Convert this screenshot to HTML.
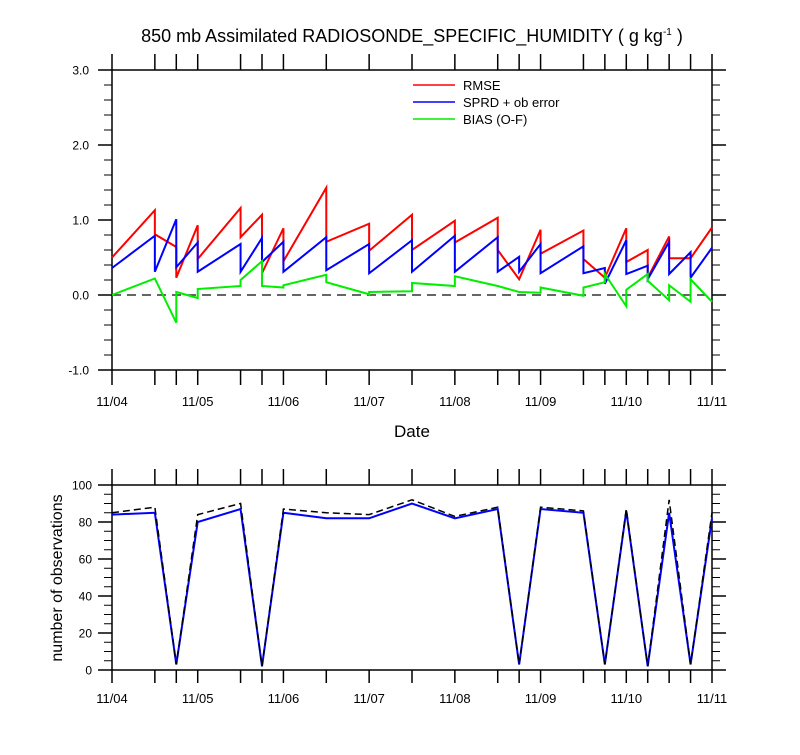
<!DOCTYPE html>
<html><head><meta charset="utf-8"><style>
body{margin:0;background:#fff}
svg text{font-family:"Liberation Sans",Arial,sans-serif;fill:#000}
</style></head><body>
<svg id="chart" width="800" height="750" viewBox="0 0 800 750">
<text x="412" y="42" font-size="18" text-anchor="middle">850 mb Assimilated RADIOSONDE_SPECIFIC_HUMIDITY ( g kg<tspan font-size="10" dy="-7">-1</tspan><tspan dy="7"> )</tspan></text>
<g id="topPanel"></g>
<g id="botPanel"></g>
</svg>
<script>
const times=[0,0.5,0.75,1,1.5,1.75,2,2.5,3,3.5,4,4.5,4.75,5,5.5,5.75,6,6.25,6.5,6.75,7];
const dateLabels=["11/04","11/05","11/06","11/07","11/08","11/09","11/10","11/11"];
const yTicksTop=[-1,0,1,2,3];
const yTicksBot=[0,20,40,60,80,100];
const rmseStart=[0.5,0.81,0.23,0.48,0.77,0.29,0.45,0.71,0.59,0.6,0.70,0.6,0.21,0.55,0.48,0.23,0.44,0.23,0.49,0.49];
const rmseEnd=[1.13,0.64,0.93,1.16,1.07,0.89,1.43,0.95,1.07,0.99,1.03,0.21,0.87,0.86,0.23,0.89,0.6,0.78,0.49,0.9];
const sprdStart=[0.36,0.31,0.37,0.31,0.31,0.44,0.31,0.33,0.29,0.31,0.31,0.31,0.31,0.29,0.29,0.15,0.28,0.21,0.28,0.23];
const sprdEnd=[0.79,1.01,0.7,0.68,0.76,0.71,0.77,0.68,0.73,0.79,0.77,0.51,0.68,0.65,0.36,0.73,0.39,0.71,0.57,0.63];
const biasStart=[0,0.22,0.04,0.08,0.2,0.12,0.13,0.17,0.04,0.16,0.25,0.12,0.04,0.1,0.1,0.28,0.07,0.19,0.13,0.21];
const biasEnd=[0.22,-0.37,-0.04,0.12,0.45,0.1,0.27,0.01,0.05,0.12,0.12,0.04,0.03,-0.01,0.17,-0.15,0.28,-0.07,-0.09,-0.09];
const obsUsed=[84,85,3,80,87,2,85,82,82,90,82,87,3,87,85,3,86,2,85,3,82];
const obsTotal=[85,88,3,84,90,2,87,85,84,92,83,88,3,88,86,3,87,2,92,3,85];

const NS="http://www.w3.org/2000/svg";
const X0=112,X1=712;
const xs=t=>X0+(X1-X0)*t/7;
const yT=v=>295-75*v;
const yB=v=>670-1.85*v;
function mk(p,tag,a){const e=document.createElementNS(NS,tag);for(const k in a)e.setAttribute(k,a[k]);p.appendChild(e);return e;}
const gTop=document.getElementById('topPanel'),gBot=document.getElementById('botPanel');

function frame(g,yt,yb,ticks,fy,minorStep,fmt,nm,tickLen,labOff,yLabOff){
  const r=mk(g,'rect',{x:X0,y:yt,width:X1-X0,height:yb-yt,fill:'none',stroke:'#000','stroke-width':1.5});
  
  
  times.forEach(t=>{
    const x=xs(t);
    const a=mk(g,'line',{x1:x,x2:x,y1:yt,y2:yt-16,stroke:'#000','stroke-width':1.5});
    
    
    const b=mk(g,'line',{x1:x,x2:x,y1:yb,y2:yb+tickLen,stroke:'#000','stroke-width':1.5});
    
    
  });
  dateLabels.forEach((d,i)=>{
    const tx=mk(g,'text',{x:xs(i),y:yb+labOff,'font-size':13,'text-anchor':'middle'});tx.textContent=d;
    
    
  });
  const lo=ticks[0],hi=ticks[ticks.length-1];
  for(let v=lo;v<=hi+1e-9;v+=minorStep){
    const y=fy(v);
    [[X0,X0-8],[X1,X1+8]].forEach(([a,b])=>{
      const l=mk(g,'line',{x1:a,x2:b,y1:y,y2:y,stroke:'#000','stroke-width':1});
      
      
    });
  }
  ticks.forEach(v=>{
    const y=fy(v);
    const l=mk(g,'line',{x1:X0,x2:X0-14,y1:y,y2:y,stroke:'#000','stroke-width':1.5});
    
    
    const l2=mk(g,'line',{x1:X1,x2:X1+14,y1:y,y2:y,stroke:'#000','stroke-width':1.5});
    
    
    const tx=mk(g,'text',{x:X0-yLabOff,y:y+4.5,'font-size':12,'text-anchor':'end'});tx.textContent=fmt(v);
    
    
  });
}
frame(gTop,70,370,yTicksTop,yT,0.2,v=>v.toFixed(1),'top',15,36,23);
frame(gBot,485,670,yTicksBot,yB,5,v=>String(v),'bottom',13,33,20);

const zl=mk(gTop,'line',{x1:X0,x2:X1,y1:yT(0),y2:yT(0),stroke:'#333','stroke-width':1.6,'stroke-dasharray':'9,6'});



function saw(st,en,col,nm){
  let d='';
  st.forEach((s,i)=>{d+=(i?'L':'M')+xs(times[i])+','+yT(s)+'L'+xs(times[i+1])+','+yT(en[i]);});
  const p=mk(gTop,'path',{d:d,fill:'none',stroke:col,'stroke-width':2});
  
  
}
saw(rmseStart,rmseEnd,'#ff0000','rmse-line');
saw(sprdStart,sprdEnd,'#0000ff','sprd-line');
saw(biasStart,biasEnd,'#00ee00','bias-line');

[['RMSE','#ff0000'],['SPRD + ob error','#0000ff'],['BIAS (O-F)','#00ee00']].forEach((e,i)=>{
  const y=85+i*17;
  const l=mk(gTop,'line',{x1:413,x2:455,y1:y,y2:y,stroke:e[1],'stroke-width':1.5});
  
  
  const t=mk(gTop,'text',{x:463,y:y+5,'font-size':13});t.textContent=e[0];
  
  
});
const dl=mk(gTop,'text',{x:412,y:437,'font-size':17,'text-anchor':'middle'});dl.textContent='Date';



function line(vals,col,w,dash,nm){
  const d=vals.map((v,i)=>(i?'L':'M')+xs(times[i])+','+yB(v)).join('');
  const p=mk(gBot,'path',{d:d,fill:'none',stroke:col,'stroke-width':w});
  if(dash)p.setAttribute('stroke-dasharray',dash);
  
  
}
line(obsUsed,'#0000ff',2,null,'obs-used-line');
line(obsTotal,'#000',1.5,'7,4','obs-total-line');
const yl=mk(gBot,'text',{x:0,y:0,'font-size':16,'text-anchor':'middle',transform:'translate(62,578) rotate(-90)'});yl.textContent='number of observations';


</script>
</body></html>
